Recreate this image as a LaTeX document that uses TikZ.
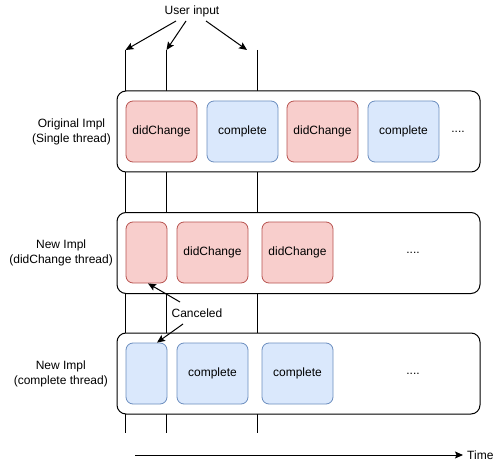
\documentclass[tikz,border=0pt]{standalone}
\usepackage{fontspec}
\setmainfont{Liberation Sans}
\usetikzlibrary{arrows.meta,calc}
\definecolor{redfill}{HTML}{F8CECC}
\definecolor{redline}{HTML}{B85450}
\definecolor{bluefill}{HTML}{DAE8FC}
\definecolor{blueline}{HTML}{6C8EBF}
\tikzset{
  lane/.style={draw=black, line width=1pt, fill=white, rounded corners=9pt, minimum width=363pt, minimum height=81pt, inner sep=0pt},
  redbox/.style={draw=redline, fill=redfill, line width=0.8pt, rounded corners=7pt, minimum width=71pt, minimum height=61pt, inner sep=0pt, font=\fontsize{12}{14}\selectfont},
  bluebox/.style={draw=blueline, fill=bluefill, line width=0.8pt, rounded corners=7pt, minimum width=71pt, minimum height=61pt, inner sep=0pt, font=\fontsize{12}{14}\selectfont},
  smallbox/.style={minimum width=41pt},
  lbl/.style={align=center, font=\fontsize{12}{15.5}\selectfont, inner sep=0pt},
  txt/.style={font=\fontsize{12}{14}\selectfont, inner sep=0pt},
  tl/.style={line width=1pt},
  arr/.style={line width=1pt, -{Stealth[length=8pt,width=7pt,inset=1.5pt]}}
}
\begin{document}
\begin{tikzpicture}[x=1pt,y=-1pt]
\useasboundingbox (0,0) rectangle (500,465);
% vertical time lines
\coordinate (v1t) at (125.5,50);
\coordinate (v1b) at (125.5,433);
\coordinate (v2t) at (166.5,50);
\coordinate (v2b) at (166.5,433);
\coordinate (v3t) at (257,50);
\coordinate (v3b) at (257,433);
\draw[tl] (v1t) -- (v1b);
\draw[tl] (v2t) -- (v2b);
\draw[tl] (v3t) -- (v3b);
% lanes
\node[lane] (lane1) at (298.5,131.5) {};
\node[lane] (lane2) at (298.5,253) {};
\node[lane] (lane3) at (298.5,373.5) {};
% row 1
\node[redbox] (a1) at (161.5,131.5) {didChange};
\node[bluebox] (a2) at (242.5,131.5) {complete};
\node[redbox] (a3) at (322.5,131.5) {didChange};
\node[bluebox] (a4) at (403.5,131.5) {complete};
\node[txt] (a5) at (458,131.5) {....};
% row 2
\node[redbox,smallbox] (r0) at (146.5,252.5) {};
\node[redbox] (r1) at (212.5,252.5) {didChange};
\node[redbox] (r2) at (297.5,252.5) {didChange};
\node[txt] (r3) at (413,252.5) {....};
% row 3
\node[bluebox,smallbox] (b0) at (146.5,373.5) {};
\node[bluebox] (b1) at (212.5,373.5) {complete};
\node[bluebox] (b2) at (297.5,373.5) {complete};
\node[txt] (b3) at (413,373.5) {....};
% lane labels
\node[lbl,anchor=east] (l1) at (111,132) {Original Impl\\(Single thread)};
\node[lbl,anchor=east] (l2) at (113,253) {New Impl\\(didChange thread)};
\node[lbl,anchor=east] (l3) at (108,374) {New Impl\\(complete thread)};
% user input
\node[txt] (ui) at (192,11) {User input};
\draw[arr] ($(ui.center)+(-16,10)$) -- (v1t);
\draw[arr] ($(ui.center)+(-6,10)$) -- (v2t);
\draw[arr] ($(ui.center)+(14,10)$) -- ($(v3t)+(-10,0)$);
% canceled
\node[txt] (canc) at (197,313) {Canceled};
\draw[arr] ($(canc.center)+(-17,-11)$) -- ($(r0.south)+(1.5,0)$);
\draw[arr] ($(canc.center)+(-14,11)$) -- ($(b0.north)+(10.5,0)$);
% time axis
\coordinate (t0) at (135,455);
\node[txt,anchor=west] (time) at (467,455) {Time};
\draw[arr] (t0) -- ($(time.west)+(-4,0)$);
\end{tikzpicture}
\end{document}
